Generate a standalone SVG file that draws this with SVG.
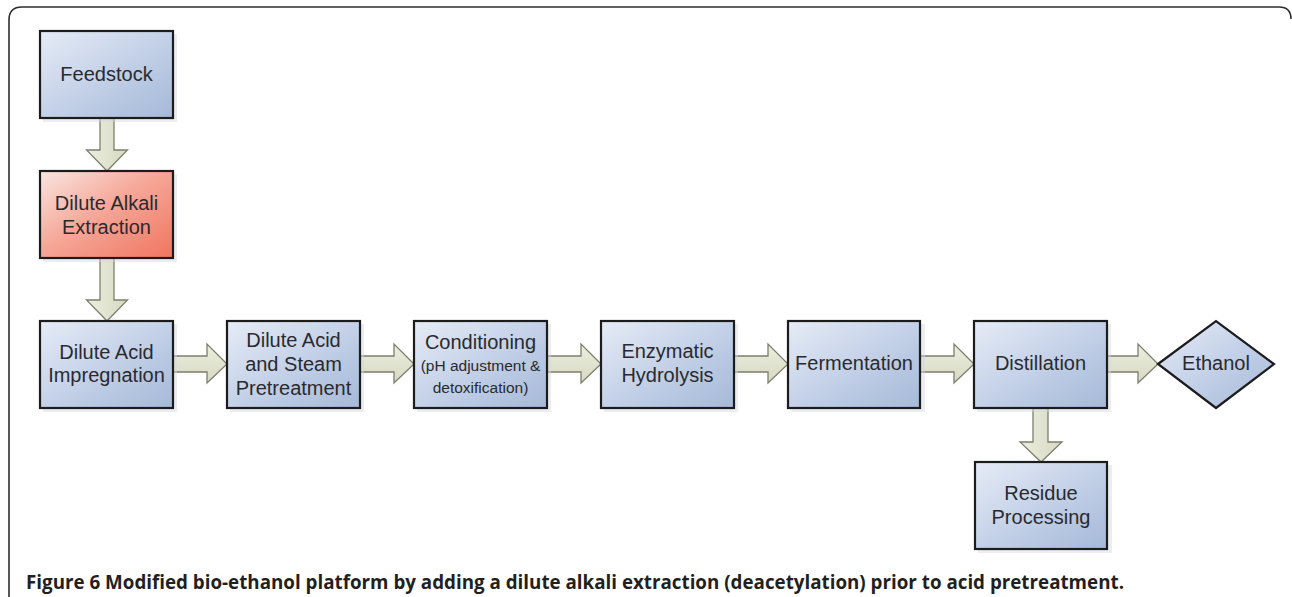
<svg xmlns="http://www.w3.org/2000/svg" width="1292" height="597" viewBox="0 0 1292 597">
<defs>
<linearGradient id="gBlue" x1="0" y1="0" x2="1" y2="1">
<stop offset="0" stop-color="#e6ecf6"/>
<stop offset="0.5" stop-color="#c4d1e8"/>
<stop offset="1" stop-color="#a5b9d8"/>
</linearGradient>
<linearGradient id="gRed" x1="0" y1="0" x2="1" y2="1">
<stop offset="0" stop-color="#f9e6e2"/>
<stop offset="0.45" stop-color="#f6a899"/>
<stop offset="1" stop-color="#f07560"/>
</linearGradient>
<linearGradient id="gArrow" x1="0" y1="0" x2="0" y2="1">
<stop offset="0" stop-color="#eceedf"/>
<stop offset="1" stop-color="#d6d9c2"/>
</linearGradient>
<linearGradient id="gArrowV" x1="0" y1="0" x2="1" y2="0">
<stop offset="0" stop-color="#eceedf"/>
<stop offset="1" stop-color="#d6d9c2"/>
</linearGradient>
</defs>
<style>
.box{stroke:#1c1c1c;stroke-width:2.2;fill:url(#gBlue)}
.red{fill:url(#gRed)}
.shadow{fill:#d3d8e0;opacity:0.45}
.arr{fill:url(#gArrow);stroke:#7c7f6c;stroke-width:1.3;stroke-linejoin:miter}
.arrv{fill:url(#gArrowV);stroke:#7c7f6c;stroke-width:1.3;stroke-linejoin:miter}
.t{font-family:Arial,"Liberation Sans",sans-serif;font-size:20px;fill:#2a2a2e;text-anchor:middle}
.s{font-size:15.5px}
.cap{font-family:"Open Sans","Liberation Sans",sans-serif;font-size:20px;fill:#231f20;font-weight:bold}
.frame{fill:none;stroke:#2e2e2e;stroke-width:1.6}
</style>
<rect width="1292" height="597" fill="#ffffff"/>
<path class="frame" d="M9,597 V20 Q9,7 22,7 H1279 Q1291,7 1291,19"/>

<g id="connectors">
<path class="arrv" d="M100,118 H114 V150 H127.5 L107,171 L86.5,150 H100 Z"/>
<path class="arrv" d="M100,258 H114 V300 H127.5 L107,321 L86.5,300 H100 Z"/>
<path class="arr" d="M173,356 H207 V344 L227,364 L207,383 V372 H173 Z"/>
<path class="arr" d="M360,356 H394 V344 L414,364 L394,383 V372 H360 Z"/>
<path class="arr" d="M547,356 H581 V344 L601,364 L581,383 V372 H547 Z"/>
<path class="arr" d="M734,356 H768 V344 L788,364 L768,383 V372 H734 Z"/>
<path class="arr" d="M920,356 H954 V344 L974,364 L954,383 V372 H920 Z"/>
<path class="arr" d="M1107,356 H1138 V344 L1158,364 L1138,383 V372 H1107 Z"/>
<path class="arrv" d="M1033,408 H1048 V442 H1062 L1041,462 L1020,442 H1033 Z"/>
</g>

<g id="feedstock">
<rect class="shadow" x="43" y="34" width="134" height="88"/>
<rect class="box" x="40" y="31" width="133" height="87"/>
<text class="t" x="106.5" y="81">Feedstock</text>
</g>
<g id="alkali">
<rect class="shadow" x="43" y="174" width="134" height="88"/>
<rect class="box red" x="40" y="171" width="133" height="87"/>
<text class="t" x="106.5" y="210">Dilute Alkali</text>
<text class="t" x="106.5" y="234">Extraction</text>
</g>
<g id="impregnation">
<rect class="shadow" x="43" y="324" width="134" height="88"/>
<rect class="box" x="40" y="321" width="133" height="87"/>
<text class="t" x="106.5" y="359">Dilute Acid</text>
<text class="t" x="106.5" y="382">Impregnation</text>
</g>
<g id="pretreatment">
<rect class="shadow" x="230" y="324" width="134" height="88"/>
<rect class="box" x="227" y="321" width="133" height="87"/>
<text class="t" x="293.5" y="347">Dilute Acid</text>
<text class="t" x="293.5" y="371">and Steam</text>
<text class="t" x="293.5" y="395">Pretreatment</text>
</g>
<g id="conditioning">
<rect class="shadow" x="417" y="324" width="134" height="88"/>
<rect class="box" x="414" y="321" width="133" height="87"/>
<text class="t" x="480.5" y="349">Conditioning</text>
<text class="t s" x="480.5" y="371">(pH adjustment &amp;</text>
<text class="t s" x="480.5" y="393">detoxification)</text>
</g>
<g id="hydrolysis">
<rect class="shadow" x="604" y="324" width="134" height="88"/>
<rect class="box" x="601" y="321" width="133" height="87"/>
<text class="t" x="667.5" y="358">Enzymatic</text>
<text class="t" x="667.5" y="382">Hydrolysis</text>
</g>
<g id="fermentation">
<rect class="shadow" x="791" y="324" width="134" height="88"/>
<rect class="box" x="788" y="321" width="132" height="87"/>
<text class="t" x="854" y="370">Fermentation</text>
</g>
<g id="distillation">
<rect class="shadow" x="977" y="324" width="134" height="88"/>
<rect class="box" x="974" y="321" width="133" height="87"/>
<text class="t" x="1040.5" y="370">Distillation</text>
</g>
<g id="ethanol">
<polygon class="box" points="1158,364 1216,321 1274,364 1216,408"/>
<text class="t" x="1216" y="370">Ethanol</text>
</g>
<g id="residue">
<rect class="shadow" x="978" y="465" width="134" height="88"/>
<rect class="box" x="975" y="462" width="132" height="87"/>
<text class="t" x="1041" y="500">Residue</text>
<text class="t" x="1041" y="524">Processing</text>
</g>

<text class="cap" x="26" y="589" textLength="1098" lengthAdjust="spacingAndGlyphs">Figure 6 Modified bio-ethanol platform by adding a dilute alkali extraction (deacetylation) prior to acid pretreatment.</text>
</svg>
